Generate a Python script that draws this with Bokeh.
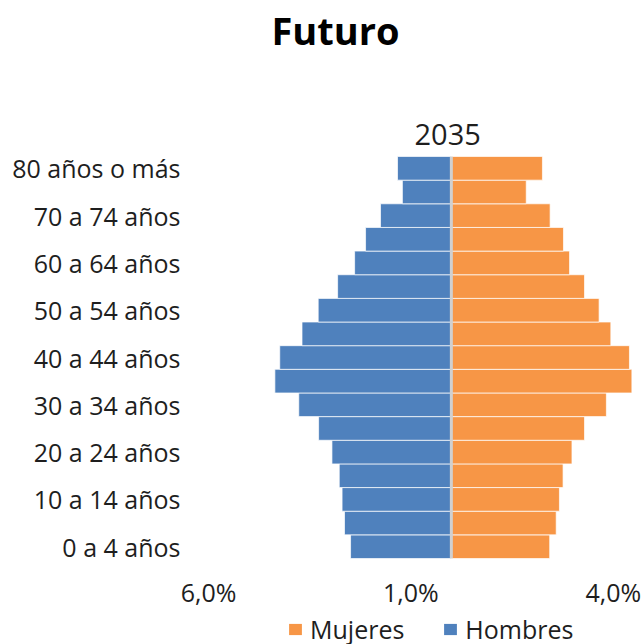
from bokeh.plotting import figure
from bokeh.layouts import column
from bokeh.models import (Range1d, FixedTicker, Span, Title, Legend, LegendItem,
                          ColumnDataSource)
from bokeh.embed import file_html
from bokeh.resources import INLINE

age_groups = ["0 a 4 años", "5 a 9 años", "10 a 14 años", "15 a 19 años",
              "20 a 24 años", "25 a 29 años", "30 a 34 años", "35 a 39 años",
              "40 a 44 años", "45 a 49 años", "50 a 54 años", "55 a 59 años",
              "60 a 64 años", "65 a 69 años", "70 a 74 años", "75 a 79 años",
              "80 años o más"]
hombres = [2.49, 2.64, 2.70, 2.77, 2.95, 3.28, 3.77, 4.36, 4.24, 3.69,
           3.29, 2.81, 2.39, 2.12, 1.75, 1.21, 1.33]
mujeres = [2.43, 2.59, 2.67, 2.76, 2.98, 3.29, 3.83, 4.46, 4.40, 3.94,
           3.65, 3.29, 2.92, 2.77, 2.44, 1.85, 2.25]
tick_values = [-6, -1, 4]
tick_labels = ["6,0%", "1,0%", "4,0%"]
series_names = ["Mujeres", "Hombres"]
title_text = "Futuro"
year_text = "2035"

FONT = "Open Sans"
BLUE = "#4F81BD"
ORANGE = "#F79646"
TXT = "#1e1e1e"

src = ColumnDataSource(dict(
    y=list(range(len(age_groups))),
    h=[-v for v in hombres],
    m=mujeres,
))

p = figure(width=644, height=611, output_backend="svg", toolbar_location=None,
           x_range=Range1d(-6, 4.5), y_range=Range1d(-0.5, len(age_groups) - 0.5),
           min_border_left=208, min_border_right=11, min_border_top=156,
           min_border_bottom=52)
p.outline_line_color = None
p.grid.grid_line_color = None
p.background_fill_color = "white"
p.border_fill_color = "white"

p.hbar(y="y", left=0, right="m", height=1, source=src, fill_color=ORANGE,
       line_color="white", line_width=1, line_alpha=0.7)
p.hbar(y="y", left="h", right=0, height=1, source=src, fill_color=BLUE,
       line_color="white", line_width=1, line_alpha=0.7)

p.add_layout(Span(location=0, dimension="height", line_color="#D0D0D0", line_width=3))

# x axis
xa = p.xaxis[0]
xa.ticker = FixedTicker(ticks=tick_values)
xa.major_label_overrides = {v: t for v, t in zip(tick_values, tick_labels)}
xa.axis_line_color = None
xa.major_tick_line_color = None
xa.minor_tick_line_color = None
xa.major_tick_out = 0
xa.major_tick_in = 0
xa.major_label_standoff = 16
xa.major_label_text_font = FONT
xa.major_label_text_font_size = "25px"
xa.major_label_text_color = TXT

# y axis
ya = p.yaxis[0]
ya.ticker = FixedTicker(ticks=list(range(0, len(age_groups), 2)))
ya.major_label_overrides = {i: age_groups[i] for i in range(0, len(age_groups), 2)}
ya.axis_line_color = None
ya.major_tick_line_color = None
ya.minor_tick_line_color = None
ya.major_tick_out = 0
ya.major_tick_in = 0
ya.major_label_standoff = 28
ya.major_label_text_font = FONT
ya.major_label_text_font_size = "25px"
ya.major_label_text_color = TXT

# titles: first added sits closest to the plot
p.add_layout(Title(text=year_text, align="left", offset=206, standoff=24,
                   text_font=FONT, text_font_size="29px", text_font_style="normal",
                   text_color=TXT), "above")
p.add_layout(Title(text=" ", align="left", standoff=51, text_font_size="1px"), "above")
p.add_layout(Title(text=title_text, align="left", offset=63, standoff=0,
                   text_font=FONT, text_font_size="38px", text_font_style="bold",
                   text_color="#000000"), "above")

# legend strip (its own bar renderers are hidden; only their legend swatches show)
q = figure(width=644, height=33, output_backend="svg", toolbar_location=None,
           x_range=Range1d(0, 1), y_range=Range1d(-10, -9),
           x_axis_type=None, y_axis_type=None,
           min_border_left=0, min_border_right=0, min_border_top=0, min_border_bottom=0)
q.outline_line_color = None
q.background_fill_color = "white"
q.border_fill_color = "white"
lm = q.hbar(y="y", left=0, right="m", height=1, source=src, fill_color=ORANGE,
            line_color=None)
lh = q.hbar(y="y", left="h", right=0, height=1, source=src, fill_color=BLUE,
            line_color=None)
lm.visible = False
lh.visible = False
legend = Legend(items=[LegendItem(label=series_names[0], renderers=[lm]),
                       LegendItem(label=series_names[1], renderers=[lh])],
                orientation="horizontal", location=(79, -2),
                label_text_font=FONT, label_text_font_size="25px",
                label_text_color=TXT, glyph_width=16, glyph_height=14,
                label_standoff=7, spacing=38, padding=0, margin=0,
                inactive_fill_alpha=0,
                border_line_color=None, background_fill_alpha=0)
q.add_layout(legend, "center")

layout = column(p, q, spacing=0)
open("out.html", "w").write(file_html(layout, INLINE))
